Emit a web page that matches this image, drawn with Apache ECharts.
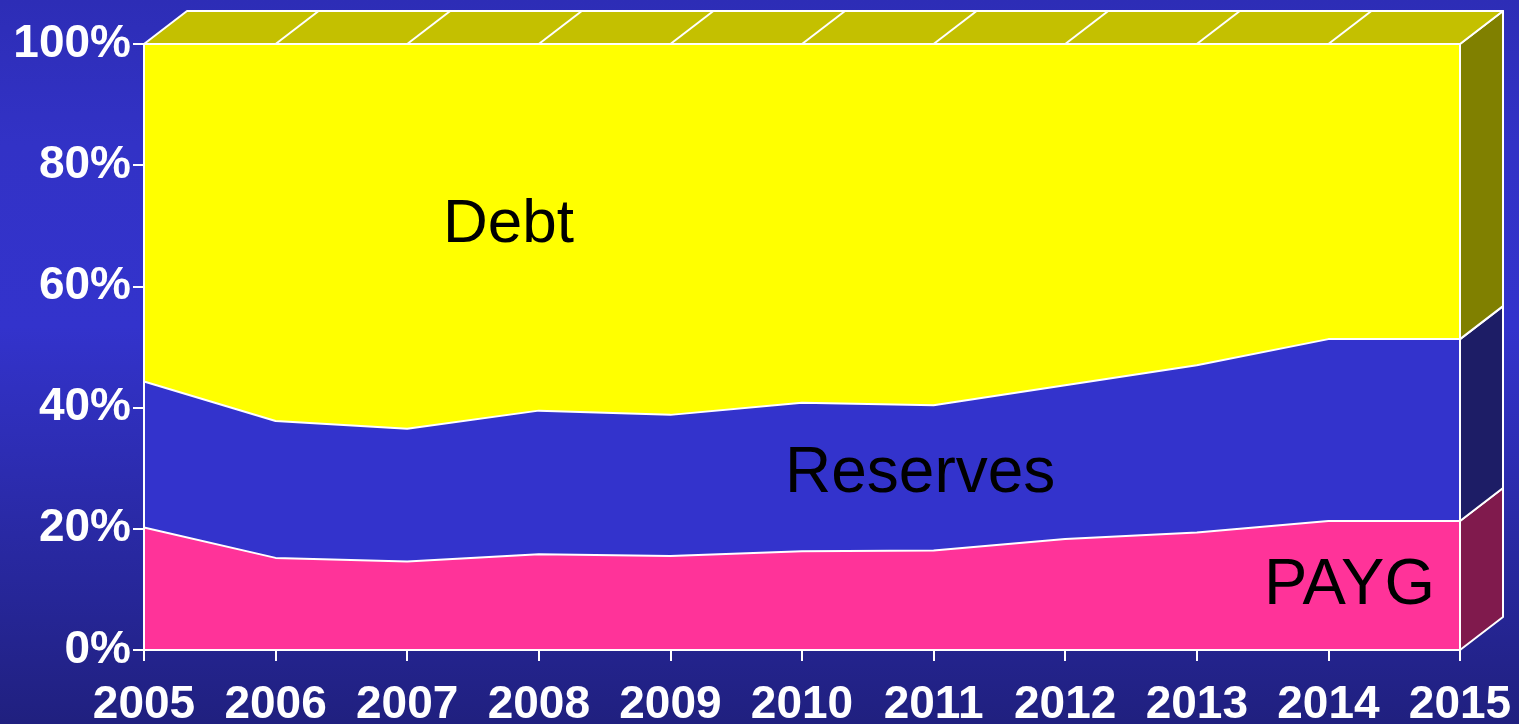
<!DOCTYPE html>
<html>
<head>
<meta charset="utf-8">
<script src="https://cdn.jsdelivr.net/npm/echarts@6/dist/echarts.min.js"></script>
<style>
  html, body { margin: 0; padding: 0; width: 1519px; height: 724px; overflow: hidden; }
  #chart { width: 1519px; height: 724px; }
</style>
</head>
<body>
<div id="chart"></div>
<script>
// Funding mix by year, percent of total
const years = ['2005', '2006', '2007', '2008', '2009', '2010', '2011', '2012', '2013', '2014', '2015'];
const payg = [20.2, 15.2, 14.6, 15.8, 15.5, 16.3, 16.4, 18.3, 19.4, 21.3, 21.3];
const reserves = [24.1, 22.6, 21.9, 23.7, 23.3, 24.5, 24.0, 25.4, 27.6, 30.0, 30.0];
const debt = [55.7, 62.2, 63.5, 60.5, 61.2, 59.2, 59.6, 56.3, 53.0, 48.7, 48.7];
const seriesNames = ['PAYG', 'Reserves', 'Debt'];

// Depth of the extruded box (pixels)
const DX = 43, DY = 33;
const FRONT = ['#ff3399', '#3333cc', '#ffff00'];
const SIDE = ['#801a4d', '#1d1d66', '#808000'];
const TOP = '#c4c000';

const chart = echarts.init(document.getElementById('chart'), null, { renderer: 'canvas' });
const layers = [payg, reserves, debt];

function renderBox(params, api) {
  const n = years.length;
  const last = n - 1;
  const children = [];
  // side faces at the last category, one per stacked layer
  let base = 0;
  layers.forEach(function (vals, k) {
    const topVal = base + vals[last];
    const a = api.coord([last, base]);
    const b = api.coord([last, topVal]);
    children.push({
      type: 'polygon',
      shape: { points: [a, [a[0] + DX, a[1] - DY], [b[0] + DX, b[1] - DY], b] },
      style: { fill: SIDE[k], stroke: '#ffffff', lineWidth: 2, lineJoin: 'round' }
    });
    base = topVal;
  });
  // top face
  const t0 = api.coord([0, base]);
  const tN = api.coord([last, base]);
  children.push({
    type: 'polygon',
    shape: { points: [t0, [t0[0] + DX, t0[1] - DY], [tN[0] + DX, tN[1] - DY], tN] },
    style: { fill: TOP, stroke: '#ffffff', lineWidth: 2, lineJoin: 'round' }
  });
  for (let i = 1; i < last; i++) {
    const p = api.coord([i, base]);
    children.push({
      type: 'line',
      shape: { x1: p[0], y1: p[1], x2: p[0] + DX, y2: p[1] - DY },
      style: { stroke: '#ffffff', lineWidth: 2 }
    });
  }
  return { type: 'group', children: children };
}

const fontFamily = '"Liberation Sans", Arial, sans-serif';

const axisFont = {
  color: '#ffffff',
  fontFamily: fontFamily,
  fontWeight: 'bold',
  fontSize: 46
};

function areaLabel(text, x, y, size) {
  return {
    type: 'text', x: x, y: y, z: 100,
    style: { text: text, fill: '#000000', fontSize: size, fontFamily: fontFamily, verticalAlign: 'middle', align: 'left' }
  };
}

const option = {
  backgroundColor: {
    type: 'linear', x: 0, y: 0, x2: 0, y2: 1,
    colorStops: [
      { offset: 0, color: '#2d2db6' },
      { offset: 0.2, color: '#3232c6' },
      { offset: 0.45, color: '#3333cc' },
      { offset: 1, color: '#20207f' }
    ]
  },
  animation: false,
  grid: { left: 144, right: 59, top: 44, bottom: 74, containLabel: false, outerBoundsMode: 'none' },
  xAxis: {
    type: 'category',
    data: years,
    boundaryGap: false,
    z: 10,
    axisLine: { show: true, lineStyle: { color: '#ffffff', width: 2 } },
    axisTick: { show: true, length: 11, lineStyle: { color: '#ffffff', width: 2 } },
    axisLabel: Object.assign({ margin: 32, interval: 0 }, axisFont),
    splitLine: { show: false }
  },
  yAxis: {
    type: 'value',
    min: 0, max: 100, interval: 20,
    z: 10,
    axisLine: { show: true, lineStyle: { color: '#ffffff', width: 2 } },
    axisTick: { show: true, length: 11, lineStyle: { color: '#ffffff', width: 2 } },
    axisLabel: Object.assign({ margin: 13, formatter: '{value}%' }, axisFont),
    splitLine: { show: false }
  },
  series: layers.map(function (vals, k) {
    return {
      name: seriesNames[k],
      type: 'line',
      stack: 'total',
      data: vals,
      symbol: 'none',
      z: 5 - k,
      lineStyle: { color: '#ffffff', width: 2 },
      areaStyle: { color: FRONT[k], opacity: 1 }
    };
  }).concat([{
    type: 'custom',
    renderItem: renderBox,
    data: [[years.length - 1, 100]],
    clip: false,
    z: 8,
    silent: true
  }]),
  graphic: {
    elements: [
      areaLabel('Debt', 443, 225, 62),
      areaLabel('Reserves', 785, 474, 64),
      areaLabel('PAYG', 1264, 586, 65)
    ]
  }
};

chart.setOption(option);
</script>
</body>
</html>
